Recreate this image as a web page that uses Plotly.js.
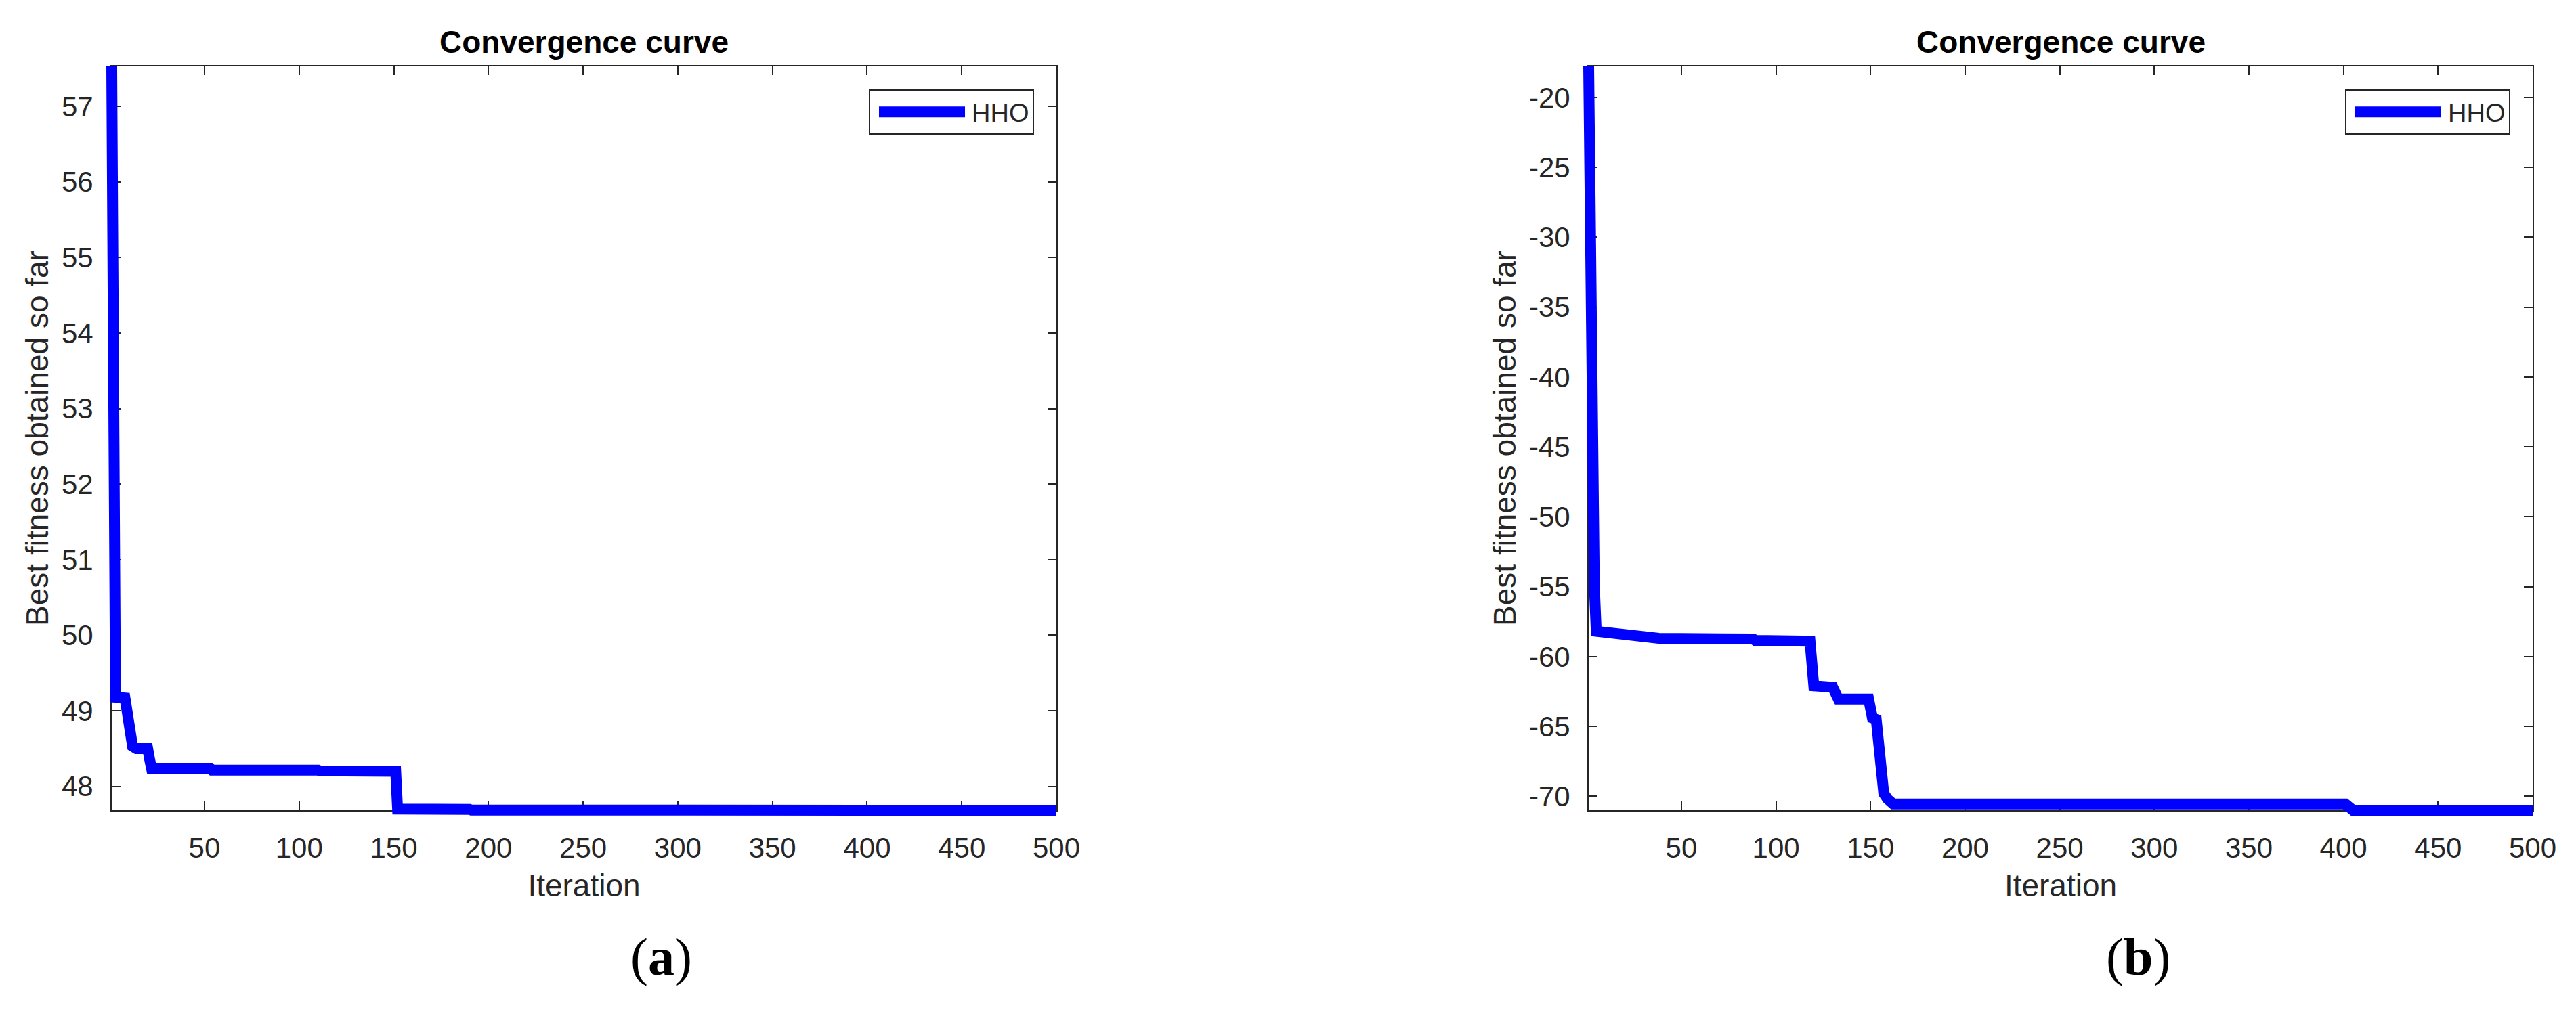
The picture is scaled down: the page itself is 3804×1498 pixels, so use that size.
<!DOCTYPE html>
<html>
<head>
<meta charset="utf-8">
<script src="https://cdn.plot.ly/plotly-3.0.1.min.js"></script>
<style>
  html, body { margin: 0; padding: 0; background: #ffffff; }
  #chart { width: 3804px; height: 1498px; }
</style>
</head>
<body>
<div id="chart"></div>
<script>
// ---------------- data ----------------
const seriesName = 'HHO';
const panelTitle = 'Convergence curve';
const xTitle = 'Iteration';
const yTitle = 'Best fitness obtained so far';
const panelLabels = ['(<b>a</b>)', '(<b>b</b>)'];

// panel (a): best fitness vs iteration (breakpoints of the step curve)
const iterA = [1, 2, 3, 8, 9, 10, 11, 12, 14, 20, 21, 22, 53, 54, 110, 111, 151, 152, 190, 191, 500];
const fitA  = [57.53, 49.30, 49.18, 49.17, 49.00, 48.80, 48.60, 48.53, 48.50, 48.50, 48.36, 48.24,
               48.24, 48.215, 48.215, 48.205, 48.20, 47.70, 47.695, 47.686, 47.684];

// panel (b)
const iterB = [1, 2, 3, 4, 5, 14, 15, 37, 38, 88, 89, 118, 120, 130, 133, 149, 151, 153, 155, 157, 159, 162, 401, 405, 500];
const fitB  = [-17.78, -38.0, -49.0, -55.0, -58.2, -58.3, -58.5, -58.55, -58.7, -58.75, -58.85, -58.9,
               -62.1, -62.2, -63.05, -63.05, -64.4, -64.5, -67.5, -69.8, -70.2, -70.55, -70.55, -71.0, -71.0];

const xTicks  = [50, 100, 150, 200, 250, 300, 350, 400, 450, 500];
const yTicksA = [48, 49, 50, 51, 52, 53, 54, 55, 56, 57];
const yTicksB = [-70, -65, -60, -55, -50, -45, -40, -35, -30, -25, -20];

// ---------------- styling ----------------
const W = 3804, H = 1498;
const FONT = 'Liberation Sans, Arial, Helvetica, sans-serif';
const AX = '#262626';
const BLUE = '#0000ff';

const yDom = [1 - 1197 / H, 1 - 98 / H];
const xDomA = [165 / W, 1560 / W];
const xDomB = [2346 / W, 3740 / W];

function xAxis(domain, anchor, xs) {
  return {
    domain: domain, anchor: anchor,
    range: [Math.min(...xs), Math.max(...xs)],
    tickmode: 'array', tickvals: xTicks, ticktext: xTicks.map(String),
    ticks: 'inside', ticklen: 13, tickwidth: 2, tickcolor: AX,
    showline: true, linecolor: AX, linewidth: 2, mirror: 'ticks',
    showgrid: false, zeroline: false, layer: 'below traces',
    tickfont: { family: FONT, size: 42, color: AX },
    ticklabelstandoff: 18,
    title: { text: xTitle, font: { family: FONT, size: 46, color: AX }, standoff: 16 }
  };
}
function yAxis(domain, anchor, ys, ticks) {
  return {
    domain: domain, anchor: anchor,
    range: [Math.min(...ys), Math.max(...ys)],
    // MATLAB writes negative labels with a plain hyphen
    tickmode: 'array', tickvals: ticks, ticktext: ticks.map(String),
    ticks: 'inside', ticklen: 13, tickwidth: 2, tickcolor: AX,
    showline: true, linecolor: AX, linewidth: 2, mirror: 'ticks',
    showgrid: false, zeroline: false, layer: 'below traces',
    tickfont: { family: FONT, size: 42, color: AX },
    ticklabelstandoff: 17,
    title: { text: yTitle, font: { family: FONT, size: 46, color: AX }, standoff: 5 }
  };
}

const data = [
  { x: iterA, y: fitA, type: 'scatter', mode: 'lines', name: seriesName,
    line: { color: BLUE, width: 16 }, xaxis: 'x', yaxis: 'y', legend: 'legend' },
  { x: iterB, y: fitB, type: 'scatter', mode: 'lines', name: seriesName,
    line: { color: BLUE, width: 16 }, xaxis: 'x2', yaxis: 'y2', legend: 'legend2' }
];

function legendAt(rightPx) {
  return {
    x: rightPx / W, xanchor: 'right', y: 1 - 132 / H, yanchor: 'top',
    bgcolor: '#ffffff', bordercolor: AX, borderwidth: 2,
    font: { family: FONT, size: 38, color: AX },
    itemwidth: 140, tracegroupgap: 0
  };
}

const layout = {
  width: W, height: H,
  margin: { l: 0, r: 0, t: 0, b: 0 },
  paper_bgcolor: '#ffffff', plot_bgcolor: '#ffffff',
  showlegend: true,
  xaxis: xAxis(xDomA, 'y', iterA),
  yaxis: yAxis(yDom, 'x', fitA, yTicksA),
  xaxis2: xAxis(xDomB, 'y2', iterB),
  yaxis2: yAxis(yDom, 'x2', fitB, yTicksB),
  legend: legendAt(1527),
  legend2: legendAt(3707),
  annotations: [
    { text: '<b>' + panelTitle + '</b>', xref: 'paper', yref: 'paper',
      x: (xDomA[0] + xDomA[1]) / 2, y: 1 - 62 / H, xanchor: 'center', yanchor: 'middle',
      showarrow: false, font: { family: FONT, size: 46, color: '#000000' } },
    { text: '<b>' + panelTitle + '</b>', xref: 'paper', yref: 'paper',
      x: (xDomB[0] + xDomB[1]) / 2, y: 1 - 62 / H, xanchor: 'center', yanchor: 'middle',
      showarrow: false, font: { family: FONT, size: 46, color: '#000000' } },
    { text: panelLabels[0], xref: 'paper', yref: 'paper',
      x: 976 / W, y: 1 - 1413 / H, xanchor: 'center', yanchor: 'middle',
      showarrow: false, font: { family: 'Liberation Serif, Times New Roman, serif', size: 78, color: '#000000' } },
    { text: panelLabels[1], xref: 'paper', yref: 'paper',
      x: 3157 / W, y: 1 - 1413 / H, xanchor: 'center', yanchor: 'middle',
      showarrow: false, font: { family: 'Liberation Serif, Times New Roman, serif', size: 78, color: '#000000' } }
  ]
};

Plotly.newPlot('chart', data, layout, { staticPlot: true, displayModeBar: false }).then(function (gd) {
  // MATLAB draws the thick line over the axes box; let it overflow the plot area like there
  gd.querySelectorAll('.cartesianlayer [clip-path]').forEach(function (el) {
    el.removeAttribute('clip-path');
  });
  // legend sample: same thickness as the curve, MATLAB-like inset
  gd.querySelectorAll('.legendlines path').forEach(function (p) {
    p.style.strokeWidth = '16px';
    p.setAttribute('d', 'M13,0h127');
  });
});
</script>
</body>
</html>
